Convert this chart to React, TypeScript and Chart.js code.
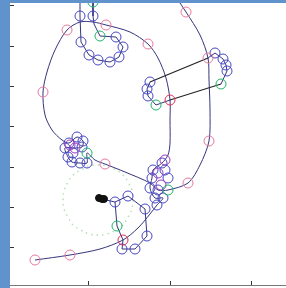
import { useEffect, useRef } from 'react';
import { Chart, registerables } from 'chart.js';
Chart.register(...registerables);

type P = [number, number];

// Axis tick values (data units)
const xTicks = [78, 160, 241];
const yTicks = [38, 78, 118, 159, 199, 239, 280];

// Long trajectory
const mainPath: P[] = [
  [25, 25], [60, 30], [90, 36], [113, 45], [128, 57], [140, 71], [147, 80], [153, 87], [145, 87],
  [140, 97], [142, 107], [143, 115], [152, 122], [158, 130], [160, 142], [160, 165], [160, 185],
  [156, 207], [148, 227], [138, 241], [120, 253], [96, 260], [83, 263], [70, 263], [57, 255],
  [45, 235], [37, 213], [33, 193], [35, 170], [42, 155], [52, 145], [59, 142], [67, 148], [73, 144],
  [72, 138], [65, 137], [55, 137], [58, 128], [62, 123], [70, 122], [77, 122], [77, 132], [85, 125],
  [95, 121], [115, 113], [140, 102], [148, 95], [158, 95], [178, 102], [190, 120], [199, 144],
  [200, 175], [199, 205], [198, 227], [190, 250], [176, 273], [168, 285],
];

const loopA: P[] = [
  [83, 285], [83, 269], [84, 261], [90, 249], [106, 248], [113, 238], [109, 228], [100, 223],
  [88, 225], [79, 230], [71, 243], [70, 269], [70, 285],
];
const chainC: P[] = [
  [92, 86], [105, 83], [118, 89], [135, 76], [137, 49], [125, 36], [112, 36], [113, 45], [107, 59], [105, 83],
];
const chainD: P[] = [[140, 203], [137, 196], [138, 189], [146, 180], [160, 185]];
const chainE: P[] = [[198, 227], [205, 232], [213, 226], [216, 220], [217, 214], [211, 201]];
const link1: P[] = [[140, 203], [198, 227]];
const link2: P[] = [[160, 185], [211, 201]];

const dotCircle: P[] = [
  [123, 85], [122, 76], [118, 68], [113, 60], [106, 55], [97, 51], [88, 50], [79, 51], [71, 55],
  [63, 60], [58, 68], [54, 76], [53, 85], [54, 94], [58, 103], [63, 110], [71, 115], [79, 119],
  [88, 120], [97, 119], [106, 115], [113, 110], [118, 103], [122, 94], [123, 85],
];

const pinkMarks: P[] = [
  [25, 25], [60, 30], [138, 241], [96, 260], [57, 255], [33, 193], [95, 121], [178, 102],
  [199, 144], [176, 273], [198, 227],
];
const redMarks: P[] = [[113, 45], [160, 185]];
const greenMarks: P[] = [[77, 132], [158, 95], [83, 283], [90, 249], [146, 180], [211, 201], [107, 59]];
const blueMarks: P[] = [
  [70, 269], [83, 269], [71, 243], [79, 230], [88, 225], [100, 223], [109, 228], [113, 238], [106, 248],
  [59, 142], [67, 148], [73, 144], [72, 138], [55, 137], [58, 128], [62, 123], [70, 122], [77, 122], [63, 132],
  [152, 122], [143, 115], [142, 107], [158, 107], [140, 97], [148, 95], [145, 87], [153, 87], [147, 80], [155, 115],
  [140, 203], [137, 196], [138, 189],
  [205, 232], [213, 226], [216, 220], [217, 214],
  [105, 83], [118, 89], [135, 76], [137, 49], [125, 36], [112, 36],
];
const purpleMarks: P[] = [[65, 137], [60, 140], [151, 100], [148, 112], [155, 125]];
const blob: P[] = [[89, 87], [92, 86], [94, 86]];

const pts = (a: P[]) => a.map(([x, y]) => ({ x, y }));

const NAVY = '#35357e';

function lineDs(data: P[], color: string, width = 1, tension = 0) {
  return {
    data: pts(data), showLine: true, borderColor: color, borderWidth: width,
    pointRadius: 0, tension, fill: false,
  };
}
function markDs(data: P[], color: string) {
  return {
    data: pts(data), showLine: false, pointRadius: 5, pointBorderWidth: 1,
    pointBorderColor: color, pointBackgroundColor: 'rgba(0,0,0,0)', pointStyle: 'circle',
  };
}

const frame = {
  id: 'frame',
  beforeDraw(chart: any) {
    const { ctx, chartArea: a } = chart;
    ctx.save();
    ctx.fillStyle = '#6092cb';
    ctx.fillRect(0, 0, chart.width, chart.height);
    ctx.fillStyle = '#ffffff';
    ctx.fillRect(a.left, a.top, chart.width - a.left, chart.height - a.top);
    ctx.restore();
  },
  afterDraw(chart: any) {
    const { ctx, chartArea: a, scales } = chart;
    ctx.save();
    ctx.strokeStyle = '#777';
    ctx.lineWidth = 1;
    ctx.beginPath();
    ctx.moveTo(a.left, a.bottom + 0.5);
    ctx.lineTo(a.right, a.bottom + 0.5);
    ctx.stroke();
    ctx.strokeStyle = '#333';
    for (const v of xTicks) {
      const x = Math.round(scales.x.getPixelForValue(v)) + 0.5;
      ctx.beginPath();
      ctx.moveTo(x, a.bottom);
      ctx.lineTo(x, a.bottom - 4);
      ctx.stroke();
    }
    for (const v of yTicks) {
      const y = Math.round(scales.y.getPixelForValue(v)) + 0.5;
      ctx.beginPath();
      ctx.moveTo(a.left, y);
      ctx.lineTo(a.left + 4, y);
      ctx.stroke();
    }
    ctx.restore();
  },
};

export default function App() {
  const ref = useRef<HTMLCanvasElement>(null);
  useEffect(() => {
    if (!ref.current) return;
    const chart = new Chart(ref.current, {
      type: 'scatter',
      data: {
        datasets: [
          { ...markDs(blob, '#111'), pointBackgroundColor: '#111', pointRadius: 3.5 },
          markDs(greenMarks, '#1fb36e'),
          markDs(redMarks, '#e0305a'),
          markDs(pinkMarks, '#e57ba0'),
          markDs(purpleMarks, '#a03cc0'),
          markDs(blueMarks, '#4848c4'),
          lineDs(link1, '#222', 1.2),
          lineDs(link2, '#222', 1.2),
          lineDs(chainC, NAVY),
          lineDs(chainD, NAVY),
          lineDs(chainE, NAVY),
          lineDs(loopA, NAVY),
          lineDs(mainPath, NAVY, 1, 0.3),
          { ...lineDs(dotCircle, '#b5dfb5', 1.5, 0.4), borderDash: [1.5, 4] },
        ] as any,
      },
      options: {
        animation: false,
        responsive: false,
        devicePixelRatio: 1,
        layout: { autoPadding: false, padding: { left: 10, top: 3, right: 0, bottom: 3 } },
        plugins: { legend: { display: false }, tooltip: { enabled: false } },
        scales: {
          x: { type: 'linear', min: 0, max: 276, display: false },
          y: { type: 'linear', min: 0, max: 282, display: false },
        },
      },
      plugins: [frame],
    });
    return () => chart.destroy();
  }, []);
  return (
    <div style={{ position: 'fixed', left: 0, top: 0, width: 286, height: 288 }}>
      <canvas ref={ref} width={286} height={288} style={{ display: 'block' }} />
    </div>
  );
}
